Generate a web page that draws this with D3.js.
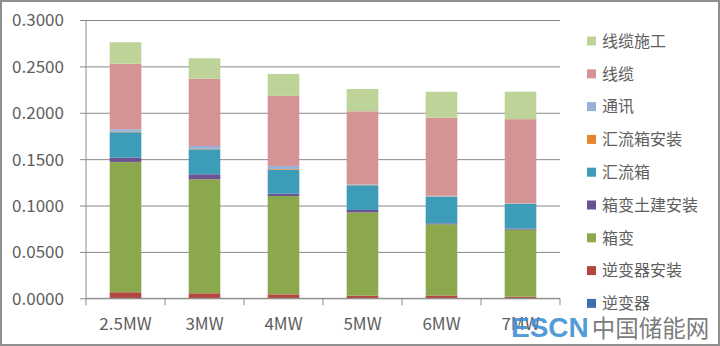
<!DOCTYPE html>
<html>
<head>
<meta charset="utf-8">
<script src="https://cdn.jsdelivr.net/npm/d3@7"></script>
<style>
  html, body { margin: 0; padding: 0; background: #fff; }
  svg { display: block; }
</style>
</head>
<body>
<svg id="chart" width="720" height="346"></svg>
<script>
// Categories (plant capacity) and the cost components per watt
const categories = ["2.5MW", "3MW", "4MW", "5MW", "6MW", "7MW"];
const yTicks = [0, 0.05, 0.10, 0.15, 0.20, 0.25, 0.30];

// Stack order, bottom to top
const seriesNames = ["逆变器", "逆变器安装", "箱变", "箱变土建安装", "汇流箱", "汇流箱安装", "通讯", "线缆", "线缆施工"];

const inverter        = [0, 0, 0, 0, 0, 0];
const inverterInstall = [0.0065, 0.0054, 0.0043, 0.0028, 0.0030, 0.0017];
const boxTransformer  = [0.1405, 0.1229, 0.1060, 0.0899, 0.0768, 0.0723];
const boxCivil        = [0.0046, 0.0054, 0.0025, 0.0025, 0.0010, 0.0011];
const combinerBox     = [0.0274, 0.0269, 0.0259, 0.0266, 0.0287, 0.0266];
const combinerInstall = [0.0005, 0.0005, 0.0008, 0.0004, 0.0003, 0.0003];
const communication   = [0.0027, 0.0031, 0.0032, 0.0007, 0.0007, 0.0005];
const cable           = [0.0707, 0.0725, 0.0755, 0.0787, 0.0841, 0.0906];
const cableWork       = [0.0231, 0.0220, 0.0237, 0.0240, 0.0280, 0.0296];

const seriesValues = [inverter, inverterInstall, boxTransformer, boxCivil, combinerBox,
                      combinerInstall, communication, cable, cableWork];

const colors = ["#3f6fb0", "#b5463f", "#8ca84c", "#6c5293", "#3d9db8",
                "#e5852f", "#97b0d8", "#d49394", "#bdd398"];

// Build row table for d3.stack
const rows = categories.map((c, i) => {
  const r = { cat: c };
  seriesNames.forEach((n, k) => { r[n] = seriesValues[k][i]; });
  return r;
});

const svg = d3.select("#chart");
const W = 720, H = 346;
const plot = { left: 86, right: 560, top: 20, bottom: 298.3 };

const font = "'Noto Sans CJK SC', 'Open Sans', sans-serif";
const textColor = "#5e5e5e";

// Outer frame
svg.append("rect")
  .attr("x", 1).attr("y", 1).attr("width", W - 2).attr("height", H - 2)
  .attr("fill", "#fff").attr("stroke", "#8f8f8f").attr("stroke-width", 2);

const x = d3.scaleBand().domain(categories).range([plot.left, plot.right]).paddingInner(0.6).paddingOuter(0.3);
const xEdges = d3.scaleBand().domain(categories).range([plot.left, plot.right]).padding(0);
const y = d3.scaleLinear().domain([0, 0.3]).range([plot.bottom, plot.top]);

// Horizontal gridlines + y axis ticks
const yAxis = d3.axisLeft(y).tickValues(yTicks).tickFormat(d3.format(".4f"))
  .tickSize(-(plot.right - plot.left) - 6).tickPadding(16);
const gy = svg.append("g").attr("transform", `translate(${plot.left - 6},0)`).call(yAxis);
gy.select(".domain").remove();
gy.selectAll(".tick line").attr("stroke", "#8a8a8a").attr("stroke-width", 1)
  .attr("x1", 0).attr("x2", plot.right - plot.left + 6);
gy.selectAll(".tick text")
  .attr("fill", textColor).attr("font-family", font).attr("font-size", 17)
  .attr("dy", "0.35em");

// Vertical axis line
svg.append("line")
  .attr("x1", plot.left).attr("x2", plot.left)
  .attr("y1", plot.top).attr("y2", plot.bottom)
  .attr("stroke", "#8a8a8a");

// Stacked bars
const stack = d3.stack().keys(seriesNames);
const layers = stack(rows);

svg.append("g").selectAll("g")
  .data(layers)
  .join("g")
  .attr("fill", (d, i) => colors[i])
  .selectAll("rect")
  .data(d => d)
  .join("rect")
  .attr("x", d => x(d.data.cat))
  .attr("width", x.bandwidth())
  .attr("y", d => y(d[1]))
  .attr("height", d => Math.max(0, y(d[0]) - y(d[1])));

// X axis with ticks at category boundaries
const gx = svg.append("g").attr("transform", `translate(0,${plot.bottom})`);
gx.append("line").attr("x1", plot.left).attr("x2", plot.right)
  .attr("stroke", "#8a8a8a");
const boundaries = categories.map(c => xEdges(c)).concat([plot.right]);
gx.selectAll("line.tick").data(boundaries).join("line")
  .attr("class", "tick")
  .attr("x1", d => d).attr("x2", d => d)
  .attr("y1", 0).attr("y2", 7)
  .attr("stroke", "#8a8a8a");
gx.selectAll("text").data(categories).join("text")
  .attr("x", d => xEdges(d) + xEdges.bandwidth() / 2)
  .attr("y", 32)
  .attr("text-anchor", "middle")
  .attr("fill", textColor).attr("font-family", font).attr("font-size", 17)
  .text(d => d);

// Legend, top to bottom in reverse stack order
const legendOrder = seriesNames.map((n, i) => ({ n, c: colors[i] })).reverse();
const lg = svg.append("g").attr("transform", "translate(587,41)");
const li = lg.selectAll("g").data(legendOrder).join("g")
  .attr("transform", (d, i) => `translate(0,${i * 32.8})`);
li.append("rect").attr("x", 0).attr("y", -4.5).attr("width", 9).attr("height", 9)
  .attr("fill", d => d.c);
li.append("text").attr("x", 15).attr("y", 0).attr("dy", "0.36em")
  .attr("fill", textColor).attr("font-family", font).attr("font-size", 16)
  .text(d => d.n);

// Site mark in the lower right corner
const wm = svg.append("text").attr("x", 511).attr("y", 337);
wm.append("tspan").attr("font-size", 28).attr("font-weight", "bold")
  .attr("font-family", "'Liberation Sans', Arial, sans-serif")
  .attr("fill", "#3b8fd2").attr("fill-opacity", 0.9).text("ESCN");
wm.append("tspan").attr("dx", 3).attr("font-size", 23.5)
  .attr("font-family", "'Noto Sans CJK SC', sans-serif")
  .attr("fill", "#6b6b6b").attr("fill-opacity", 0.9).text("中国储能网");
</script>
</body>
</html>
